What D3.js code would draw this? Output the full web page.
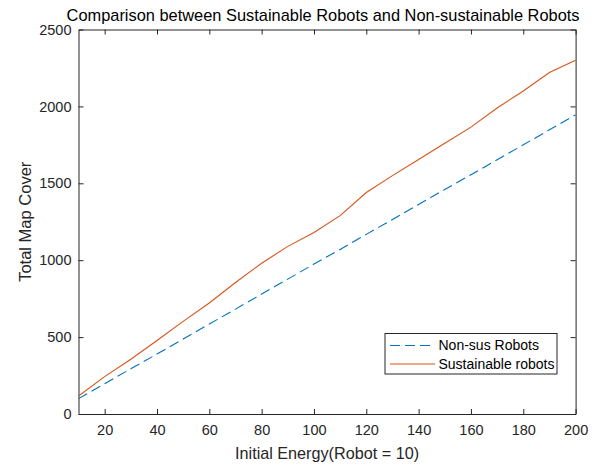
<!DOCTYPE html>
<html>
<head>
<meta charset="utf-8">
<script src="https://cdn.jsdelivr.net/npm/d3@7"></script>
<style>
  body { margin: 0; background: #fff; }
  svg { display: block; font-family: "Liberation Sans", Arial, sans-serif; }
</style>
</head>
<body>
<div id="chart"></div>
<script>
const energy = [10, 20, 30, 40, 50, 60, 70, 80, 90, 100, 110, 120, 130, 140, 150, 160, 170, 180, 190, 200];
const nonSus = [100, 197, 294, 390, 487, 585, 682, 780, 877, 975, 1070, 1168, 1265, 1362, 1460, 1556, 1653, 1750, 1848, 1945];
const sustainable = [117, 243, 356, 478, 602, 722, 855, 980, 1090, 1180, 1290, 1440, 1550, 1655, 1760, 1865, 1990, 2100, 2220, 2300];
const xTicks = [20, 40, 60, 80, 100, 120, 140, 160, 180, 200];
const yTicks = [0, 500, 1000, 1500, 2000, 2500];
const seriesNames = ["Non-sus Robots", "Sustainable robots"];

const W = 601, H = 466;
const margin = {top: 29.5, right: 25.4, bottom: 52, left: 78.5};
const width = W - margin.left - margin.right;
const height = H - margin.top - margin.bottom;
const axisColor = "#262626";

const svg = d3.select("#chart").append("svg")
    .attr("width", W)
    .attr("height", H);

const g = svg.append("g")
    .attr("transform", "translate(" + margin.left + "," + margin.top + ")");

const x = d3.scaleLinear().domain([10, 200]).range([0, width]);
const y = d3.scaleLinear().domain([0, 2500]).range([height, 0]);

// axes, matlab style: ticks inside, box on
const tl = 5;
const fmt = d3.format("d");
const xb = g.append("g").attr("transform", "translate(0," + height + ")")
    .call(d3.axisBottom(x).tickValues(xTicks).tickFormat(fmt).tickSizeInner(-tl).tickSizeOuter(0).tickPadding(11));
const yl = g.append("g")
    .call(d3.axisLeft(y).tickValues(yTicks).tickFormat(fmt).tickSizeInner(-tl).tickSizeOuter(0).tickPadding(7));
const xt = g.append("g")
    .call(d3.axisTop(x).tickValues(xTicks).tickSizeInner(-tl).tickSizeOuter(0).tickFormat(""));
const yr = g.append("g").attr("transform", "translate(" + width + ",0)")
    .call(d3.axisRight(y).tickValues(yTicks).tickSizeInner(-tl).tickSizeOuter(0).tickFormat(""));

[xb, yl, xt, yr].forEach(a => {
    a.select(".domain").attr("stroke", axisColor);
    a.selectAll(".tick line").attr("stroke", axisColor);
    a.selectAll(".tick text").attr("fill", axisColor).style("font-size", "14.5px");
});

const line = d3.line()
    .x((d, i) => x(energy[i]))
    .y(d => y(d));

g.append("path")
    .datum(nonSus)
    .attr("fill", "none")
    .attr("stroke", "#0072BD")
    .attr("stroke-width", 1.1)
    .attr("stroke-dasharray", "10,5")
    .attr("d", line);

g.append("path")
    .datum(sustainable)
    .attr("fill", "none")
    .attr("stroke", "#D95319")
    .attr("stroke-width", 1.1)
    .attr("d", line);

// title + labels
svg.append("text")
    .attr("x", margin.left + width / 2 - 4)
    .attr("y", 21)
    .attr("text-anchor", "middle")
    .attr("fill", "#000")
    .style("font-size", "16.4px")
    .text("Comparison between Sustainable Robots and Non-sustainable Robots");

svg.append("text")
    .attr("x", margin.left + width / 2)
    .attr("y", 459)
    .attr("text-anchor", "middle")
    .attr("fill", axisColor)
    .style("font-size", "16.2px")
    .text("Initial Energy(Robot = 10)");

svg.append("text")
    .attr("transform", "translate(31," + (margin.top + height / 2) + ") rotate(-90)")
    .attr("text-anchor", "middle")
    .attr("fill", axisColor)
    .style("font-size", "16.5px")
    .text("Total Map Cover");

// legend
const legend = svg.append("g").attr("transform", "translate(385,333.5)");
legend.append("rect")
    .attr("width", 172)
    .attr("height", 40.5)
    .attr("fill", "#fff")
    .attr("stroke", axisColor);

const styles = [
    {color: "#0072BD", dash: "10,5"},
    {color: "#D95319", dash: null}
];
seriesNames.forEach((name, i) => {
    const row = legend.append("g").attr("transform", "translate(0," + (12 + i * 18.5) + ")");
    row.append("line")
        .attr("x1", 5).attr("x2", 50)
        .attr("stroke", styles[i].color)
        .attr("stroke-width", 1.1)
        .attr("stroke-dasharray", styles[i].dash);
    row.append("text")
        .attr("x", 53.5)
        .attr("dy", "0.35em")
        .attr("fill", "#000")
        .style("font-size", "14px")
        .text(name);
});
</script>
</body>
</html>
